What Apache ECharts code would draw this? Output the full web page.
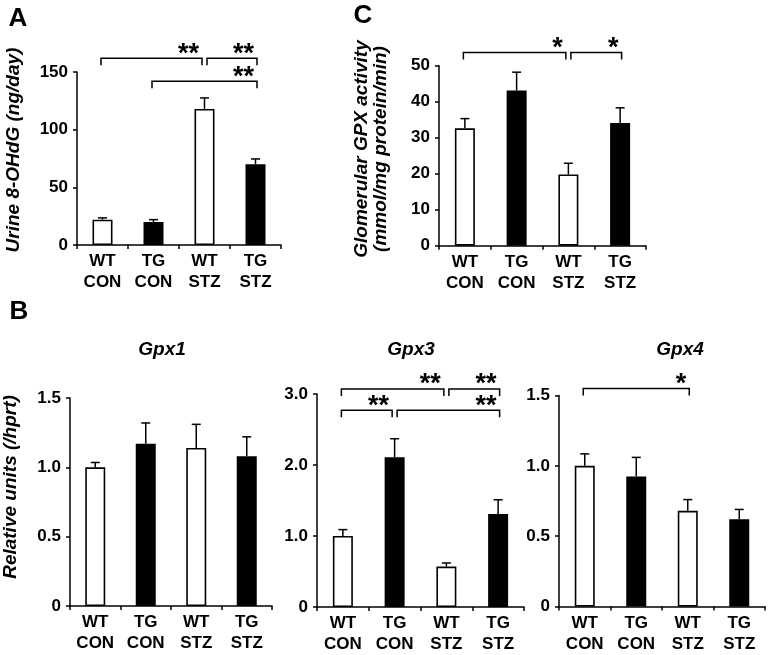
<!DOCTYPE html>
<html>
<head>
<meta charset="utf-8">
<script src="https://cdn.jsdelivr.net/npm/echarts@6/dist/echarts.min.js"></script>
<style>
  html, body { margin: 0; padding: 0; background: #fff; }
  #chart { width: 768px; height: 655px; }
</style>
</head>
<body>
<div id="chart"></div>
<script>
// ---- data ----
const groups = ['WT\nCON', 'TG\nCON', 'WT\nSTZ', 'TG\nSTZ'];

const urineMean = [22, 20, 118, 70];
const urineErr = [1.5, 2, 9.5, 4.6];
const urineTicks = ['0', '50', '100', '150'];

const gpxActMean = [32.6, 43.1, 19.8, 34.1];
const gpxActErr = [2.7, 5.1, 3.1, 4.2];
const gpxActTicks = ['0', '10', '20', '30', '40', '50'];

const gpx1Mean = [1.0, 1.17, 1.14, 1.08];
const gpx1Err = [0.035, 0.15, 0.17, 0.14];
const gpx1Ticks = ['0', '0.5', '1.0', '1.5'];

const gpx3Mean = [1.0, 2.11, 0.57, 1.31];
const gpx3Err = [0.09, 0.26, 0.05, 0.2];
const gpx3Ticks = ['0', '1.0', '2.0', '3.0'];

const gpx4Mean = [1.0, 0.925, 0.68, 0.62];
const gpx4Err = [0.085, 0.135, 0.08, 0.07];
const gpx4Ticks = ['0', '0.5', '1.0', '1.5'];

// significance brackets: [fromGroup, level, toGroup]
const urineBrackets = [[0, 162, 2], [2, 162, 3], [1, 142, 3]];
const urineStars = ['**', '**', '**'];
const gpxActBrackets = [[0, 53.7, 2], [2, 53.7, 3]];
const gpxActStars = ['*', '*'];
const gpx1Brackets = [];
const gpx1Stars = [];
const gpx3Brackets = [[0, 3.07, 2], [2, 3.07, 3], [0, 2.77, 1], [1, 2.77, 3]];
const gpx3Stars = ['**', '**', '**', '**'];
const gpx4Brackets = [[0, 1.55, 2]];
const gpx4Stars = ['*'];

// ---- layout / style ----
const FONT = '"Liberation Sans", Arial, Helvetica, sans-serif';
const panels = [
  { mean: urineMean, err: urineErr, ticks: urineTicks, max: 150, interval: 50,
    brackets: urineBrackets, stars: urineStars,
    grid: { left: 77, top: 72, width: 204, height: 173 } },
  { mean: gpxActMean, err: gpxActErr, ticks: gpxActTicks, max: 50, interval: 10,
    brackets: gpxActBrackets, stars: gpxActStars,
    grid: { left: 439, top: 65.7, width: 207, height: 180 } },
  { mean: gpx1Mean, err: gpx1Err, ticks: gpx1Ticks, max: 1.5, interval: 0.5,
    brackets: gpx1Brackets, stars: gpx1Stars,
    grid: { left: 70, top: 398, width: 202, height: 208 } },
  { mean: gpx3Mean, err: gpx3Err, ticks: gpx3Ticks, max: 3, interval: 1,
    brackets: gpx3Brackets, stars: gpx3Stars,
    grid: { left: 317, top: 394, width: 207, height: 213 } },
  { mean: gpx4Mean, err: gpx4Err, ticks: gpx4Ticks, max: 1.5, interval: 0.5,
    brackets: gpx4Brackets, stars: gpx4Stars,
    grid: { left: 559, top: 395.5, width: 206, height: 211 } }
];

const grids = [], xAxes = [], yAxes = [], series = [];
const axisLineStyle = { color: '#000', width: 1.5 };

panels.forEach((p, i) => {
  grids.push(Object.assign({ containLabel: false }, p.grid));
  xAxes.push({
    type: 'category', gridIndex: i, data: groups,
    axisLine: { show: true, lineStyle: axisLineStyle },
    axisTick: { show: true, length: 4, lineStyle: axisLineStyle },
    axisLabel: { color: '#000', fontSize: 17, fontWeight: 'bold', fontFamily: FONT,
                 lineHeight: 21, margin: 6, interval: 0 },
    splitLine: { show: false }
  });
  const ticks = p.ticks, intv = p.interval;
  yAxes.push({
    type: 'value', gridIndex: i, min: 0, max: p.max, interval: intv,
    axisLine: { show: true, lineStyle: axisLineStyle },
    axisTick: { show: true, length: 4, lineStyle: axisLineStyle },
    axisLabel: { color: '#000', fontSize: 17, fontWeight: 'bold', fontFamily: FONT, margin: 9,
                 formatter: v => ticks[Math.round(v / intv)] },
    splitLine: { show: false }
  });
  series.push({
    type: 'bar', xAxisIndex: i, yAxisIndex: i, barWidth: 20,
    data: p.mean.map((v, k) => ({
      value: v,
      itemStyle: { color: k % 2 === 0 ? '#fff' : '#000', borderColor: '#000', borderWidth: 1.6 }
    })),
    animation: false, z: 2
  });
  series.push({
    type: 'custom', xAxisIndex: i, yAxisIndex: i, z: 3, animation: false, clip: false,
    data: p.mean.map((v, k) => [k, v, p.err[k]]),
    renderItem: (params, api) => {
      const x = api.value(0), m = api.value(1), e = api.value(2);
      const p0 = api.coord([x, m]);
      const p1 = api.coord([x, m + e]);
      const st = { stroke: '#000', lineWidth: 1.5 };
      return { type: 'group', children: [
        { type: 'line', shape: { x1: p0[0], y1: p0[1], x2: p1[0], y2: p1[1] }, style: st },
        { type: 'line', shape: { x1: p1[0] - 4.5, y1: p1[1], x2: p1[0] + 4.5, y2: p1[1] }, style: st }
      ]};
    }
  });
  if (p.brackets.length) {
    const br = p.brackets, stars = p.stars;
    series.push({
      type: 'custom', xAxisIndex: i, yAxisIndex: i, z: 4, animation: false, clip: false,
      data: br.map(b => b.slice()),
      renderItem: (params, api) => {
        const from = api.value(0), lvl = api.value(1), to = api.value(2);
        const a = api.coord([from, lvl]);
        const b = api.coord([to, lvl]);
        let xl = a[0] - 1.5, xr = b[0] + 1.5;
        br.forEach((o, j) => {
          if (j === params.dataIndex || o[1] !== lvl) return;
          if (o[0] === to) xr = b[0] - 2.5;
          if (o[2] === from) xl = a[0] + 2.5;
        });
        const y = a[1];
        return { type: 'group', children: [
          { type: 'polyline', shape: { points: [[xl, y + 7], [xl, y], [xr, y], [xr, y + 7]] },
            style: { stroke: '#000', lineWidth: 1.5, fill: null } },
          { type: 'text', x: xr - 3, y: y - 4,
            style: { text: stars[params.dataIndex], fill: '#000', align: 'right', verticalAlign: 'middle',
                     font: 'bold 27px ' + FONT } }
        ]};
      }
    });
  }
});

function label(text, x, y, size, style, rot) {
  return { type: 'text', x: x, y: y, rotation: rot || 0, silent: true,
    style: { text: text, fill: '#000', align: 'center', verticalAlign: 'middle',
             font: (style ? style + ' ' : '') + 'bold ' + size + 'px ' + FONT } };
}

const option = {
  backgroundColor: '#fff',
  animation: false,
  grid: grids, xAxis: xAxes, yAxis: yAxes, series: series,
  graphic: [
    label('A', 18, 19, 26),
    label('C', 363, 16, 26),
    label('B', 19, 312, 26),
    label('Urine 8-OHdG (ng/day)', 14, 150, 19, 'italic', Math.PI / 2),
    label('Glomerular GPX activity', 362, 149, 19, 'italic', Math.PI / 2),
    label('(mmol/mg protein/min)', 381, 149, 19, 'italic', Math.PI / 2),
    label('Relative units (/hprt)', 11, 487, 19, 'italic', Math.PI / 2),
    label('Gpx1', 162, 350, 19, 'italic'),
    label('Gpx3', 411, 350, 19, 'italic'),
    label('Gpx4', 680, 350, 19, 'italic')
  ]
};

const chart = echarts.init(document.getElementById('chart'), null, { renderer: 'canvas' });
chart.setOption(option);
</script>
</body>
</html>
